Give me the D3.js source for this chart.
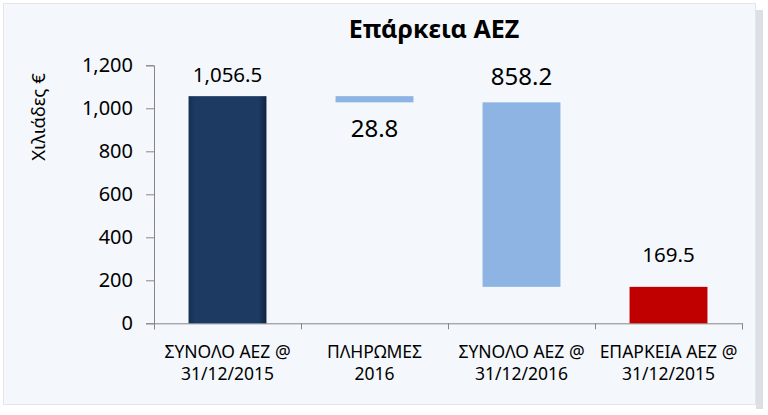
<!DOCTYPE html>
<html>
<head>
<meta charset="utf-8">
<script src="https://cdn.jsdelivr.net/npm/d3@7"></script>
<style>
  body { margin: 0; background: #fff; }
  text { font-family: "Noto Sans", "Open Sans", sans-serif; fill: #000; }
</style>
</head>
<body>
<div id="chart"></div>
<script>
// data
var categories = [
  ["ΣΥΝΟΛΟ ΑΕΖ @", "31/12/2015"],
  ["ΠΛΗΡΩΜΕΣ", "2016"],
  ["ΣΥΝΟΛΟ ΑΕΖ @", "31/12/2016"],
  ["ΕΠΑΡΚΕΙΑ ΑΕΖ @", "31/12/2015"]
];
var values = [1056.5, 28.8, 858.2, 169.5];
var yTicks = [0, 200, 400, 600, 800, 1000, 1200];
var title = "Επάρκεια ΑΕΖ";
var yLabel = "Χιλιάδες €";

// styles
var barColors = ["url(#navyGrad)", "#8db4e2", "#8db4e2", "#c00000"];
var labelSize = [20.5, 24, 24, 20.5];
var labelDy = [-14, 35, -17, -25];   // label offset from the bar edge

var W = 768, H = 415;
var margin = {top: 65.3, right: 26, bottom: 91.7, left: 154},
    width = W - margin.left - margin.right,
    height = H - margin.top - margin.bottom;

var svg = d3.select("#chart").append("svg")
    .attr("width", W)
    .attr("height", H);

var defs = svg.append("defs");
var grad = defs.append("linearGradient").attr("id", "navyGrad")
    .attr("x1", 0).attr("x2", 1).attr("y1", 0).attr("y2", 0);
grad.append("stop").attr("offset", "0%").attr("stop-color", "#14304f");
grad.append("stop").attr("offset", "8%").attr("stop-color", "#1c3a62");
grad.append("stop").attr("offset", "90%").attr("stop-color", "#1c3a62");
grad.append("stop").attr("offset", "100%").attr("stop-color", "#0f2440");

// panel background + shadow
svg.append("rect")
    .attr("x", 756).attr("y", 10).attr("width", 7).attr("height", 399)
    .attr("fill", "#dcdfe3");
svg.append("rect")
    .attr("x", 3.5).attr("y", 3.5).attr("width", 752).attr("height", 401)
    .attr("fill", "#f4f8fc")
    .attr("stroke", "#e3e6ea");

var g = svg.append("g")
    .attr("transform", "translate(" + margin.left + "," + margin.top + ")");

var x = d3.scaleBand()
    .domain(d3.range(categories.length))
    .range([0, width])
    .paddingInner(0.47)
    .paddingOuter(0.235);

var y = d3.scaleLinear()
    .domain([0, 1200])
    .range([height, 0]);

// waterfall extents: start total, payments, new total, remaining
var total = values[0];
var afterPay = total - values[1];
var extents = [
  [0, total],
  [afterPay, total],
  [values[3], values[3] + values[2]],
  [0, values[3]]
];

// Y axis
var yAxis = g.append("g")
    .call(d3.axisLeft(y).tickValues(yTicks).tickFormat(d3.format(",")).tickSize(8).tickPadding(13));
yAxis.selectAll("path, line").attr("stroke", "#868686");
yAxis.selectAll("text").style("font-size", "20px").style("font-family", "Noto Sans");

// X axis with tick marks at category boundaries
var xb = d3.scaleLinear().domain([0, categories.length]).range([0, width]);
var xAxis = g.append("g")
    .attr("transform", "translate(0," + height + ")")
    .call(d3.axisBottom(xb).ticks(categories.length).tickFormat("").tickSize(6).tickSizeOuter(6));
xAxis.selectAll("path, line").attr("stroke", "#868686");

// category labels
var cat = g.selectAll(".cat")
    .data(categories)
    .enter().append("text")
      .attr("class", "cat")
      .attr("text-anchor", "middle")
      .attr("transform", function(d, i) { return "translate(" + (x(i) + x.bandwidth() / 2) + "," + (height + 35) + ")"; })
      .style("font-size", "17.5px");
cat.append("tspan").attr("x", 0).attr("y", 0).text(function(d) { return d[0]; });
cat.append("tspan").attr("x", 0).attr("y", 22).text(function(d) { return d[1]; });

// bars
g.selectAll(".bar")
    .data(extents)
    .enter().append("rect")
      .attr("class", "bar")
      .attr("x", function(d, i) { return x(i); })
      .attr("width", x.bandwidth())
      .attr("y", function(d) { return y(d[1]); })
      .attr("height", function(d) { return y(d[0]) - y(d[1]); })
      .attr("fill", function(d, i) { return barColors[i]; });

// value labels
var fmt = d3.format(",.1f");
g.selectAll(".val")
    .data(extents)
    .enter().append("text")
      .attr("class", "val")
      .attr("text-anchor", "middle")
      .attr("x", function(d, i) { return x(i) + x.bandwidth() / 2; })
      .attr("y", function(d, i) { return (i === 1 ? y(d[0]) : y(d[1])) + labelDy[i]; })
      .style("font-size", function(d, i) { return labelSize[i] + "px"; })
      .text(function(d, i) { return fmt(values[i]); });

// title
svg.append("text")
    .attr("x", 434).attr("y", 38)
    .attr("text-anchor", "middle")
    .style("font-size", "25px")
    .style("font-weight", "bold")
    .text(title);

// y label
svg.append("text")
    .attr("transform", "translate(45,117) rotate(-90)")
    .attr("text-anchor", "middle")
    .style("font-size", "18.5px")
    .text(yLabel);
</script>
</body>
</html>
